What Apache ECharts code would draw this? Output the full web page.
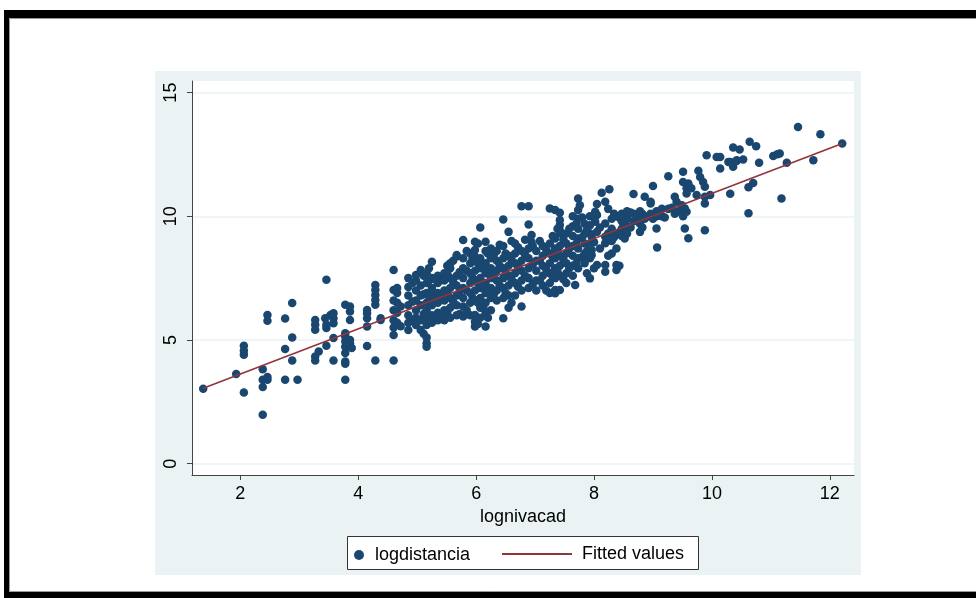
<!DOCTYPE html>
<html>
<head>
<meta charset="utf-8">
<script src="https://cdn.jsdelivr.net/npm/echarts@6/dist/echarts.min.js"></script>
<style>
  html, body { margin: 0; padding: 0; background: #fff; }
  #chart { width: 976px; height: 598px; }
</style>
</head>
<body>
<div id="chart"></div>
<script>
  // lognivacad value, then the logdistancia values read at that x
  var pointColumns = [
    [1.37, [3.03]],
    [1.93, [3.62]],
    [2.06, [2.88, 4.40, 4.56, 4.77]],
    [2.38, [1.98, 3.10, 3.39, 3.82]],
    [2.46, [3.39, 3.50, 5.78, 6.01]],
    [2.76, [3.39, 4.63, 5.87]],
    [2.88, [4.17, 5.10, 6.49]],
    [2.97, [3.39]],
    [3.27, [4.17, 4.33, 5.41, 5.61, 5.81]],
    [3.33, [4.53]],
    [3.44, [5.88]],
    [3.46, [4.77, 5.48, 5.61, 7.43]],
    [3.53, [6.01]],
    [3.58, [4.17, 5.08, 5.68, 5.88, 6.08]],
    [3.78, [3.39, 4.04, 4.13, 4.47, 4.73, 4.94, 5.14, 5.27, 6.42]],
    [3.86, [4.87, 5.00, 5.81, 6.15, 6.35]],
    [3.89, [4.67]],
    [4.15, [4.76, 5.54, 5.88, 6.08, 6.21]],
    [4.29, [4.17, 6.42, 6.62, 6.82, 7.02, 7.22]],
    [4.38, [5.81, 5.88]],
    [4.60, [4.17, 5.2, 5.5, 5.8, 6.2, 6.6, 7.02, 7.83]],
    [4.66, [5.7, 6.1, 6.5, 6.9, 7.1]],
    [4.72, [5.55, 6.35]],
    [4.85, [5.4, 5.7, 6.0, 6.4, 6.8, 7.14, 7.5]],
    [4.92, [5.8, 6.55, 7.3]],
    [4.98, [5.6, 5.9, 6.2, 6.6, 7.0, 7.4, 7.63]],
    [5.06, [5.4, 5.8, 6.4, 6.8, 7.2, 7.83]],
    [5.11, [5.25, 6.05, 6.85, 7.6]],
    [5.16, [4.73, 4.87, 5.1, 5.6, 5.9, 6.2, 6.5, 6.9, 7.3, 7.7]],
    [5.20, [5.8, 6.6, 7.4, 7.9]],
    [5.25, [5.7, 6.0, 6.4, 6.8, 7.1, 7.5, 8.16]],
    [5.30, [5.95, 6.7, 7.45]],
    [5.35, [5.8, 6.1, 6.5, 6.9, 7.3, 7.6]],
    [5.41, [6.0, 6.8, 7.55]],
    [5.46, [5.8, 6.2, 6.6, 7.0, 7.4, 7.7]],
    [5.51, [6.1, 6.9, 7.7, 8.0]],
    [5.56, [5.9, 6.3, 6.7, 7.1, 7.5, 7.9, 8.1]],
    [5.61, [6.55, 7.35, 8.2]],
    [5.67, [6.0, 6.4, 6.8, 7.2, 7.6, 8.37, 8.43]],
    [5.72, [6.05, 6.95, 7.75]],
    [5.78, [5.95, 6.35, 6.7, 7.1, 7.5, 7.9, 8.3, 9.04]],
    [5.84, [6.2, 7.0, 7.8, 8.6]],
    [5.90, [6.0, 6.5, 6.9, 7.3, 7.7, 8.1, 8.5]],
    [5.94, [6.7, 7.5, 8.3]],
    [5.98, [5.54, 5.74, 6.01, 6.6, 7.0, 7.4, 7.8, 8.37, 8.64, 8.97]],
    [6.03, [5.65, 6.5, 7.3, 8.1, 8.9]],
    [6.07, [5.9, 6.3, 6.7, 7.1, 7.5, 7.9, 8.3, 9.55]],
    [6.12, [6.3, 7.1, 7.9]],
    [6.16, [5.54, 6.1, 6.5, 6.9, 7.3, 7.7, 8.1, 8.6, 8.97]],
    [6.20, [5.9, 6.9, 7.7, 8.5]],
    [6.25, [6.2, 6.7, 7.1, 7.5, 7.9, 8.3, 8.7]],
    [6.30, [6.85, 7.65, 8.45]],
    [6.35, [6.6, 7.0, 7.4, 7.8, 8.2, 8.6]],
    [6.40, [7.2, 8.0, 8.85]],
    [6.46, [5.88, 6.7, 7.1, 7.5, 7.9, 8.3, 8.8, 9.87]],
    [6.50, [6.9, 7.7, 8.5]],
    [6.55, [6.3, 6.8, 7.2, 7.6, 8.0, 8.4, 9.37]],
    [6.60, [6.5, 7.45, 8.25, 9.0]],
    [6.66, [6.8, 7.3, 7.7, 8.1, 8.5, 8.9]],
    [6.71, [7.15, 7.95, 8.75]],
    [6.77, [6.35, 7.0, 7.4, 7.8, 8.2, 8.6, 10.41]],
    [6.83, [7.6, 8.45, 9.05]],
    [6.89, [7.1, 7.5, 7.9, 8.3, 8.7, 9.67, 10.41]],
    [6.94, [8.97, 9.24]],
    [6.96, [7.25, 8.05, 8.8]],
    [7.02, [7.0, 7.4, 7.8, 8.2, 8.6]],
    [7.08, [7.4, 8.2, 9.0]],
    [7.13, [7.2, 7.6, 8.0, 8.4, 8.8]],
    [7.19, [7.0, 7.85, 8.65]],
    [7.25, [6.9, 7.3, 7.7, 8.1, 8.5, 8.9, 10.32]],
    [7.30, [7.55, 8.35, 9.2]],
    [7.34, [6.89, 7.02, 7.5, 7.9, 8.3, 8.7, 9.1, 10.25]],
    [7.38, [7.75, 8.55, 9.5]],
    [7.42, [7.02, 7.6, 8.0, 8.4, 8.8, 9.31, 9.44, 9.65, 9.85, 10.14]],
    [7.48, [7.45, 8.25, 9.05]],
    [7.53, [7.3, 7.7, 8.1, 8.5, 8.9, 9.3]],
    [7.58, [7.9, 8.7, 9.5]],
    [7.64, [7.6, 8.0, 8.4, 8.8, 9.2, 9.6, 10.0]],
    [7.68, [7.22]],
    [7.70, [8.1, 8.9, 9.7]],
    [7.73, [7.9, 8.3, 8.7, 9.1, 9.5, 9.9, 10.25, 10.72]],
    [7.76, [10.45]],
    [7.80, [8.35, 9.15, 9.95]],
    [7.84, [8.1, 8.5, 8.9, 9.3, 9.7]],
    [7.88, [7.7, 8.6, 9.45]],
    [7.93, [7.49, 8.3, 8.91, 9.3, 9.64, 10.0]],
    [7.96, [8.43, 8.64, 9.17]],
    [8.00, [7.9, 8.95, 9.95]],
    [8.02, [9.78, 10.18]],
    [8.05, [8.03, 9.37, 10.05, 10.5]],
    [8.10, [8.7, 9.55]],
    [8.13, [10.95]],
    [8.19, [7.76, 8.03, 8.91, 9.17, 9.71, 10.59]],
    [8.24, [8.4, 9.3, 10.3]],
    [8.26, [11.09]],
    [8.30, [8.5, 9.0, 9.5, 9.9]],
    [8.34, [9.15, 10.1]],
    [8.38, [7.83, 8.03, 8.7, 9.3, 10.0]],
    [8.43, [8.0, 9.35, 9.95]],
    [8.47, [9.2, 9.5, 9.8, 10.1]],
    [8.52, [9.1, 9.75]],
    [8.56, [9.3, 9.6, 9.9, 10.2]],
    [8.62, [9.55, 10.15]],
    [8.67, [9.8, 10.1, 10.9]],
    [8.72, [9.85]],
    [8.78, [9.37, 9.7, 10.0, 10.2]],
    [8.82, [9.55, 10.1]],
    [8.86, [9.9, 10.79]],
    [8.91, [10.0]],
    [8.96, [10.1, 10.52, 10.59]],
    [9.00, [9.9, 11.22]],
    [9.06, [9.51, 10.0, 10.2]],
    [9.07, [8.74]],
    [9.10, [10.15]],
    [9.15, [10.0, 10.3]],
    [9.20, [9.95]],
    [9.26, [10.3, 11.62]],
    [9.32, [10.35]],
    [9.37, [10.1, 10.79]],
    [9.40, [10.59]],
    [9.44, [10.2]],
    [9.49, [10.45]],
    [9.51, [10.0, 11.39, 11.80]],
    [9.54, [9.51, 10.32]],
    [9.57, [10.18, 10.92, 11.13]],
    [9.60, [9.11, 11.33]],
    [9.65, [11.13]],
    [9.74, [10.86]],
    [9.77, [11.84]],
    [9.80, [11.59]],
    [9.85, [11.39]],
    [9.88, [9.44, 10.52, 10.79, 11.19]],
    [9.91, [12.47]],
    [9.97, [10.86]],
    [10.08, [12.40]],
    [10.14, [11.93, 12.40]],
    [10.28, [12.20]],
    [10.31, [10.91, 12.20]],
    [10.36, [12.00, 12.78]],
    [10.42, [12.24, 12.27]],
    [10.47, [12.70]],
    [10.53, [12.30]],
    [10.62, [10.12, 11.17]],
    [10.64, [13.01]],
    [10.70, [11.35]],
    [10.75, [12.83]],
    [10.80, [12.16]],
    [11.04, [12.44]],
    [11.11, [12.51]],
    [11.15, [12.54]],
    [11.18, [10.72]],
    [11.27, [12.16]],
    [11.46, [13.61]],
    [11.72, [12.27]],
    [11.84, [13.32]],
    [12.21, [12.94]]
  ];

  var fittedX = [1.37, 12.21];
  var fittedY = [3.05, 12.94];

  var xTicks = [2, 4, 6, 8, 10, 12];
  var yTicks = [0, 5, 10, 15];

  var logdistancia = [];
  pointColumns.forEach(function (col) {
    col[1].forEach(function (y) { logdistancia.push([col[0], y]); });
  });
  var fitted = fittedX.map(function (x, i) { return [x, fittedY[i]]; });

  var font = 'Liberation Sans, Arial, sans-serif';
  var axisColor = '#444';

  var chart = echarts.init(document.getElementById('chart'));
  var option = {
    animation: false,
    backgroundColor: '#fff',
    textStyle: { fontFamily: font },
    graphic: [
      // stata graph region
      { type: 'rect', z: -10, shape: { x: 155, y: 71, width: 706, height: 504 }, style: { fill: '#eaf2f3' } },
      // black frame of the screenshot
      { type: 'rect', z: 100, shape: { x: 4, y: 10, width: 972, height: 8 }, style: { fill: '#000' } },
      { type: 'rect', z: 100, shape: { x: 4, y: 10, width: 5, height: 588 }, style: { fill: '#000' } },
      { type: 'rect', z: 100, shape: { x: 4, y: 592, width: 972, height: 6 }, style: { fill: '#000' } },
      { type: 'rect', z: 100, shape: { x: 9.5, y: 18.5, width: 980, height: 573 }, style: { fill: 'none', stroke: '#999', lineWidth: 1 } },
      // legend box
      { type: 'rect', z: 2, shape: { x: 347.5, y: 536.5, width: 351, height: 33 }, style: { fill: '#fff', stroke: '#333', lineWidth: 1 } }
    ],
    grid: {
      left: 192, right: 122, top: 81, bottom: 123,
      show: true, backgroundColor: '#fff', borderWidth: 0
    },
    legend: [
      {
        data: ['logdistancia'], left: 354, top: 546, padding: 0,
        itemWidth: 10, itemHeight: 10, selectedMode: false,
        textStyle: { fontSize: 18, color: '#000', fontFamily: font, padding: [0, 0, 0, 6] }
      },
      {
        data: [{ name: 'Fitted values', icon: 'rect' }], left: 502, top: 545, padding: 0,
        itemWidth: 70, itemHeight: 2, selectedMode: false,
        textStyle: { fontSize: 18, color: '#000', fontFamily: font, padding: [0, 0, 0, 5] }
      }
    ],
    xAxis: {
      type: 'value', min: 1.18, max: 12.41,
      name: 'lognivacad', nameLocation: 'middle', nameGap: 31,
      nameTextStyle: { fontSize: 18, color: '#000', fontFamily: font },
      axisLine: { show: true, onZero: false, lineStyle: { color: axisColor, width: 1 } },
      axisTick: { show: true, length: 5, customValues: xTicks, lineStyle: { color: axisColor } },
      axisLabel: { customValues: xTicks, fontSize: 18, color: '#000', margin: 10, fontFamily: font },
      splitLine: { show: false }
    },
    yAxis: {
      type: 'value', min: -0.46, max: 15.47,
      axisLine: { show: true, onZero: false, lineStyle: { color: axisColor, width: 1 } },
      axisTick: { show: true, length: 5, customValues: yTicks, lineStyle: { color: axisColor } },
      axisLabel: { customValues: yTicks, rotate: 90, fontSize: 18, color: '#000', margin: 12, fontFamily: font },
      splitLine: { show: true, lineStyle: { color: '#eaf2f3', width: 1.5 } }
    },
    series: [
      {
        name: 'logdistancia', type: 'scatter', data: logdistancia,
        symbol: 'circle', symbolSize: 8.5,
        itemStyle: { color: '#1a476f', opacity: 1 },
        z: 2
      },
      {
        name: 'Fitted values', type: 'line', data: fitted,
        symbol: 'none', showSymbol: false,
        lineStyle: { color: '#90353b', width: 1.6 },
        itemStyle: { color: '#90353b' },
        z: 3
      }
    ]
  };
  chart.setOption(option);
</script>
</body>
</html>
